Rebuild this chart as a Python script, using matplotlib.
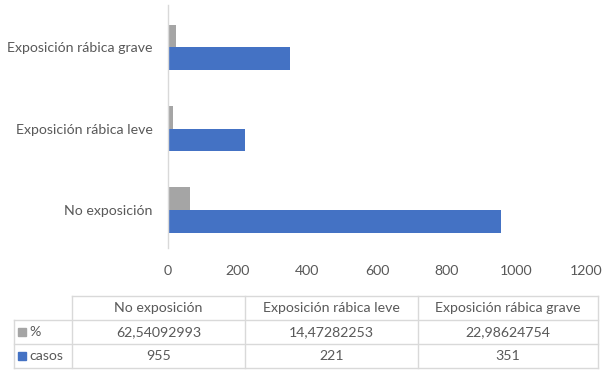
import matplotlib.pyplot as plt
import numpy as np

categories = ["No exposición", "Exposición rábica leve", "Exposición rábica grave"]
pct_values = [62.54092993, 14.47282253, 22.98624754]
pct_labels = ["62,54092993", "14,47282253", "22,98624754"]
casos_values = [955, 221, 351]
series_names = ["%", "casos"]
xticks = [0, 200, 400, 600, 800, 1000, 1200]

GRAY = "#A5A5A5"
BLUE = "#4472C4"
TXT = "#595959"
LINE = "#D9D9D9"
FS = 10.2

plt.rcParams["font.family"] = ["Lato", "DejaVu Sans"]

W, H = 602, 373
fig = plt.figure(figsize=(W / 100, H / 100), dpi=100)

# main bar axes (pixel box -> figure fraction)
ax = fig.add_axes([168 / W, (H - 248) / H, 418 / W, 243 / H])
y = np.arange(len(categories))
bh = 0.28
ax.barh(y + bh / 2, pct_values, height=bh, color=GRAY)
ax.barh(y - bh / 2, casos_values, height=bh, color=BLUE)
ax.set_xlim(0, 1200)
ax.set_ylim(-0.47, 2.52)
ax.set_xticks(xticks)
ax.set_xticklabels([str(t) for t in xticks], fontsize=FS, color=TXT)
ax.set_yticks(y)
ax.set_yticklabels(categories, fontsize=FS, color=TXT)
ax.tick_params(axis="x", length=0, pad=12)
ax.tick_params(axis="y", length=0, pad=11)
for s in ["top", "right", "bottom"]:
    ax.spines[s].set_visible(False)
ax.spines["left"].set_color(LINE)
ax.spines["left"].set_linewidth(1)

# data table below, drawn in pixel coordinates
tax = fig.add_axes([0, 0, 1, 1])
tax.set_xlim(0, W)
tax.set_ylim(H, 0)
tax.axis("off")
cols = [72, 245, 418, 598]
rows = [296, 320, 344, 368]
left = 14
lk = dict(color=LINE, lw=1)
tax.plot([cols[0], cols[-1]], [rows[0], rows[0]], **lk)
for r in rows[1:]:
    tax.plot([left, cols[-1]], [r, r], **lk)
for c in cols:
    tax.plot([c, c], [rows[0], rows[-1]], **lk)
tax.plot([left, left], [rows[1], rows[-1]], **lk)

for i, cat in enumerate(categories):
    cx = (cols[i] + cols[i + 1]) / 2
    tax.text(cx, (rows[0] + rows[1]) / 2, cat, ha="center", va="center", fontsize=FS, color=TXT)
    tax.text(cx, (rows[1] + rows[2]) / 2, pct_labels[i], ha="center", va="center", fontsize=FS, color=TXT)
    tax.text(cx, (rows[2] + rows[3]) / 2, str(casos_values[i]), ha="center", va="center", fontsize=FS, color=TXT)

for j, (name, col) in enumerate(zip(series_names, [GRAY, BLUE])):
    ym = (rows[j + 1] + rows[j + 2]) / 2
    tax.add_patch(plt.Rectangle((18, ym - 4), 8, 8, color=col))
    tax.text(29, ym, name, ha="left", va="center", fontsize=FS, color=TXT)

fig.savefig("out.png", dpi=100)
